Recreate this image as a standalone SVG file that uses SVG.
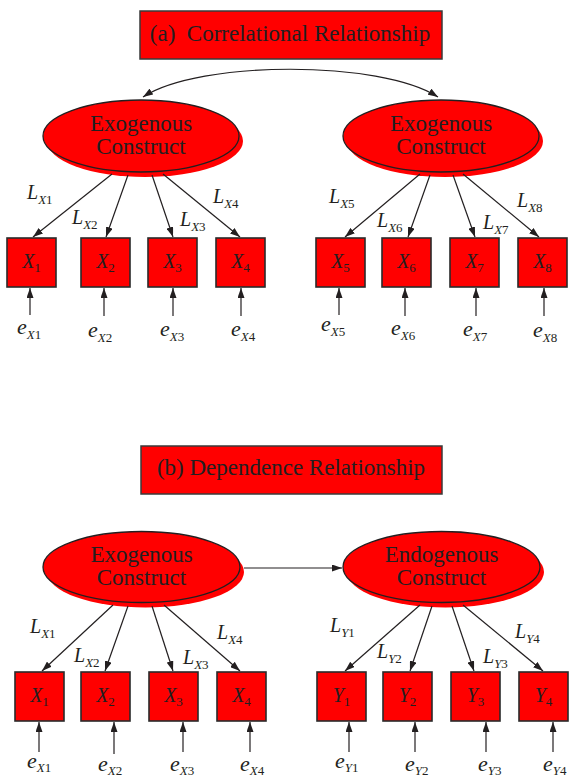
<svg xmlns="http://www.w3.org/2000/svg" width="569" height="780" viewBox="0 0 569 780">
<style>
text{font-family:"Liberation Serif","Times New Roman","DejaVu Serif",serif;fill:#231f20}
.title{font-size:23px;text-anchor:middle}
.ct{font-size:23px;text-anchor:middle}
.tbox{fill:#ff0000;stroke:#3a3a3a;stroke-width:1.5}
.ell{fill:#ff0000;stroke:#231f20;stroke-width:1.3}
.sh{fill:#ff0000;stroke:none}
.box{fill:#ff0000;stroke:#2a2a2a;stroke-width:1.6}
.bl{font-size:20px;text-anchor:middle;font-style:italic}
.lbl{font-size:20px;font-style:italic}
.el{font-size:22px;font-style:italic}
.si{font-size:13px;font-style:italic}
.sn{font-size:13px;font-style:normal}
.bn{font-size:13px;font-style:normal}
.ln{fill:none;stroke:#231f20;stroke-width:1.2}
</style>
<defs>
<marker id="ah" markerUnits="userSpaceOnUse" markerWidth="10" markerHeight="7" refX="10" refY="3.5" orient="auto-start-reverse" viewBox="0 0 10 7">
<path d="M0,0 L10,3.5 L0,7 z" fill="#231f20"/>
</marker>
</defs>

<!-- Titles -->
<g id="title-a">
<rect class="tbox" x="140" y="11" width="302" height="48"/>
<text class="title" x="290" y="41">(a)&#160; Correlational Relationship</text>
</g>
<g id="title-b">
<rect class="tbox" x="141" y="446" width="301" height="48"/>
<text class="title" x="291" y="475">(b) Dependence Relationship</text>
</g>

<!-- Constructs -->
<g id="exo-a1">
<ellipse class="sh" cx="145" cy="141" rx="98" ry="36"/>
<ellipse class="ell" cx="141" cy="136" rx="98" ry="36"/>
<text class="ct" x="141" y="131">Exogenous</text>
<text class="ct" x="141" y="154">Construct</text>
</g>
<g id="exo-a2">
<ellipse class="sh" cx="445" cy="141" rx="98" ry="36"/>
<ellipse class="ell" cx="441" cy="136" rx="98" ry="36"/>
<text class="ct" x="441" y="131">Exogenous</text>
<text class="ct" x="441" y="154">Construct</text>
</g>
<g id="exo-b">
<ellipse class="sh" cx="145.5" cy="572" rx="98.5" ry="35.5"/>
<ellipse class="ell" cx="141.5" cy="567" rx="98.5" ry="35.5"/>
<text class="ct" x="141.5" y="562">Exogenous</text>
<text class="ct" x="141.5" y="585">Construct</text>
</g>
<g id="endo-b">
<ellipse class="sh" cx="445.5" cy="572" rx="98.5" ry="35.5"/>
<ellipse class="ell" cx="441.5" cy="567" rx="98.5" ry="35.5"/>
<text class="ct" x="441.5" y="562">Endogenous</text>
<text class="ct" x="441.5" y="585">Construct</text>
</g>

<!-- Indicator boxes (a) -->
<g id="a-X1"><rect class="box" x="7" y="238" width="49" height="49"/><text class="bl" x="31.5" y="268">X<tspan class="bn" dy="4">1</tspan></text></g>
<g id="a-X2"><rect class="box" x="81" y="238" width="49" height="49"/><text class="bl" x="105.5" y="268">X<tspan class="bn" dy="4">2</tspan></text></g>
<g id="a-X3"><rect class="box" x="148" y="238" width="49" height="49"/><text class="bl" x="172.5" y="268">X<tspan class="bn" dy="4">3</tspan></text></g>
<g id="a-X4"><rect class="box" x="216" y="238" width="49" height="49"/><text class="bl" x="240.5" y="268">X<tspan class="bn" dy="4">4</tspan></text></g>
<g id="a-X5"><rect class="box" x="316" y="238" width="49" height="49"/><text class="bl" x="340.5" y="268">X<tspan class="bn" dy="4">5</tspan></text></g>
<g id="a-X6"><rect class="box" x="382" y="238" width="49" height="49"/><text class="bl" x="406.5" y="268">X<tspan class="bn" dy="4">6</tspan></text></g>
<g id="a-X7"><rect class="box" x="450" y="238" width="49" height="49"/><text class="bl" x="474.5" y="268">X<tspan class="bn" dy="4">7</tspan></text></g>
<g id="a-X8"><rect class="box" x="518" y="238" width="49" height="49"/><text class="bl" x="542.5" y="268">X<tspan class="bn" dy="4">8</tspan></text></g>

<!-- Indicator boxes (b) -->
<g id="b-X1"><rect class="box" x="15" y="672" width="49" height="49"/><text class="bl" x="39.5" y="702">X<tspan class="bn" dy="4">1</tspan></text></g>
<g id="b-X2"><rect class="box" x="81" y="672" width="49" height="49"/><text class="bl" x="105.5" y="702">X<tspan class="bn" dy="4">2</tspan></text></g>
<g id="b-X3"><rect class="box" x="149" y="672" width="49" height="49"/><text class="bl" x="173.5" y="702">X<tspan class="bn" dy="4">3</tspan></text></g>
<g id="b-X4"><rect class="box" x="217" y="672" width="49" height="49"/><text class="bl" x="241.5" y="702">X<tspan class="bn" dy="4">4</tspan></text></g>
<g id="b-Y1"><rect class="box" x="317" y="672" width="49" height="49"/><text class="bl" x="341.5" y="702">Y<tspan class="bn" dy="4">1</tspan></text></g>
<g id="b-Y2"><rect class="box" x="383" y="672" width="49" height="49"/><text class="bl" x="407.5" y="702">Y<tspan class="bn" dy="4">2</tspan></text></g>
<g id="b-Y3"><rect class="box" x="451" y="672" width="49" height="49"/><text class="bl" x="475.5" y="702">Y<tspan class="bn" dy="4">3</tspan></text></g>
<g id="b-Y4"><rect class="box" x="519" y="672" width="49" height="49"/><text class="bl" x="543.5" y="702">Y<tspan class="bn" dy="4">4</tspan></text></g>

<!-- Connectors -->
<g id="connectors" class="ln" marker-end="url(#ah)">
<path d="M143,97 C200,60 380,60 438,97" marker-start="url(#ah)"/>
<path d="M244,568 L342,568"/>
<path d="M112,174 L33,237"/>
<path d="M128,175 L106,237"/>
<path d="M152,175 L173,237"/>
<path d="M163,174 L240,237"/>
<path d="M420,174 L345,237"/>
<path d="M430,175 L408,237"/>
<path d="M453,175 L475,237"/>
<path d="M463,174 L539,237"/>
<path d="M113,605 L42,671"/>
<path d="M128,606 L105,671"/>
<path d="M152,606 L173,671"/>
<path d="M164,605 L240,671"/>
<path d="M420,605 L345,671"/>
<path d="M432,606 L410,671"/>
<path d="M452,606 L474,671"/>
<path d="M463,605 L543,671"/>
<path d="M30,315 L30,288"/>
<path d="M104,316 L104,288"/>
<path d="M173,316 L173,288"/>
<path d="M241,316 L241,288"/>
<path d="M339,315 L339,288"/>
<path d="M405,316 L405,288"/>
<path d="M476,316 L476,288"/>
<path d="M544,316 L544,288"/>
<path d="M39,752 L39,722"/>
<path d="M114,754 L114,722"/>
<path d="M183,752 L183,722"/>
<path d="M250,752 L250,722"/>
<path d="M349,752 L349,722"/>
<path d="M415,752 L415,722"/>
<path d="M486,752 L486,722"/>
<path d="M553,752 L553,722"/>
</g>

<!-- Loading labels -->
<g id="loading-labels">
<text class="lbl" x="27" y="199">L<tspan class="si" dy="5">X</tspan><tspan class="sn">1</tspan></text>
<text class="lbl" x="72" y="224">L<tspan class="si" dy="5">X</tspan><tspan class="sn">2</tspan></text>
<text class="lbl" x="180" y="226">L<tspan class="si" dy="5">X</tspan><tspan class="sn">3</tspan></text>
<text class="lbl" x="213" y="203">L<tspan class="si" dy="5">X</tspan><tspan class="sn">4</tspan></text>
<text class="lbl" x="329" y="203">L<tspan class="si" dy="5">X</tspan><tspan class="sn">5</tspan></text>
<text class="lbl" x="377" y="227">L<tspan class="si" dy="5">X</tspan><tspan class="sn">6</tspan></text>
<text class="lbl" x="483" y="229">L<tspan class="si" dy="5">X</tspan><tspan class="sn">7</tspan></text>
<text class="lbl" x="517" y="207">L<tspan class="si" dy="5">X</tspan><tspan class="sn">8</tspan></text>
<text class="lbl" x="30" y="633">L<tspan class="si" dy="5">X</tspan><tspan class="sn">1</tspan></text>
<text class="lbl" x="74" y="662">L<tspan class="si" dy="5">X</tspan><tspan class="sn">2</tspan></text>
<text class="lbl" x="183" y="664">L<tspan class="si" dy="5">X</tspan><tspan class="sn">3</tspan></text>
<text class="lbl" x="217" y="639">L<tspan class="si" dy="5">X</tspan><tspan class="sn">4</tspan></text>
<text class="lbl" x="330" y="632">L<tspan class="si" dy="5">Y</tspan><tspan class="sn">1</tspan></text>
<text class="lbl" x="377" y="658">L<tspan class="si" dy="5">Y</tspan><tspan class="sn">2</tspan></text>
<text class="lbl" x="483" y="663">L<tspan class="si" dy="5">Y</tspan><tspan class="sn">3</tspan></text>
<text class="lbl" x="515" y="638">L<tspan class="si" dy="5">Y</tspan><tspan class="sn">4</tspan></text>
</g>

<!-- Error labels -->
<g id="error-labels">
<text class="el" x="17" y="334">e<tspan class="si" dy="5">X</tspan><tspan class="sn">1</tspan></text>
<text class="el" x="88" y="337">e<tspan class="si" dy="5">X</tspan><tspan class="sn">2</tspan></text>
<text class="el" x="160" y="336">e<tspan class="si" dy="5">X</tspan><tspan class="sn">3</tspan></text>
<text class="el" x="231" y="336">e<tspan class="si" dy="5">X</tspan><tspan class="sn">4</tspan></text>
<text class="el" x="321" y="331">e<tspan class="si" dy="5">X</tspan><tspan class="sn">5</tspan></text>
<text class="el" x="391" y="335">e<tspan class="si" dy="5">X</tspan><tspan class="sn">6</tspan></text>
<text class="el" x="463" y="336">e<tspan class="si" dy="5">X</tspan><tspan class="sn">7</tspan></text>
<text class="el" x="533" y="337">e<tspan class="si" dy="5">X</tspan><tspan class="sn">8</tspan></text>
<text class="el" x="27" y="768">e<tspan class="si" dy="4">X</tspan><tspan class="sn">1</tspan></text>
<text class="el" x="98" y="771">e<tspan class="si" dy="4">X</tspan><tspan class="sn">2</tspan></text>
<text class="el" x="170" y="771">e<tspan class="si" dy="4">X</tspan><tspan class="sn">3</tspan></text>
<text class="el" x="240" y="771">e<tspan class="si" dy="4">X</tspan><tspan class="sn">4</tspan></text>
<text class="el" x="335" y="768">e<tspan class="si" dy="4">Y</tspan><tspan class="sn">1</tspan></text>
<text class="el" x="405" y="771">e<tspan class="si" dy="4">Y</tspan><tspan class="sn">2</tspan></text>
<text class="el" x="478" y="771">e<tspan class="si" dy="4">Y</tspan><tspan class="sn">3</tspan></text>
<text class="el" x="543" y="771">e<tspan class="si" dy="4">Y</tspan><tspan class="sn">4</tspan></text>
</g>
</svg>
